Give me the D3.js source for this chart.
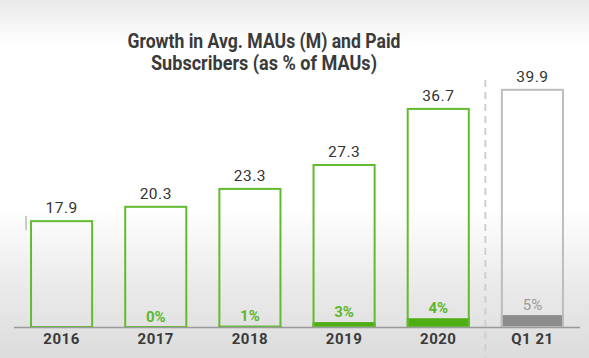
<!DOCTYPE html>
<html><head><meta charset="utf-8">
<script src="https://cdn.jsdelivr.net/npm/d3@7"></script>
<style>html,body{margin:0;padding:0;background:#fff;}svg{display:block;}</style>
</head><body>
<script>
const categories = ["2016","2017","2018","2019","2020","Q1 21"];
const maus = [17.9, 20.3, 23.3, 27.3, 36.7, 39.9];
const paidPct = [null, 0, 1, 3, 4, 5];
const titleLines = ["Growth in Avg. MAUs (M) and Paid", "Subscribers (as % of MAUs)"];
const data = categories.map((c,i)=>({cat:c, v:maus[i], p:paidPct[i], proj: c==="Q1 21"}));

const W=589,H=358;
const svg=d3.select("body").append("svg").attr("width",W).attr("height",H);
const defs=svg.append("defs");
const g=defs.append("linearGradient").attr("id","bg").attr("x1",0).attr("x2",0).attr("y1",0).attr("y2",1);
[[0,"#e9e9e9"],[0.1,"#fbfbfb"],[0.13,"#ffffff"],[0.58,"#ffffff"],[0.8,"#eaeaea"],[1,"#dcdcdc"]].forEach(s=>g.append("stop").attr("offset",s[0]).attr("stop-color",s[1]));
svg.append("rect").attr("width",W).attr("height",H).attr("fill","url(#bg)");

const base=327;
const y=d3.scaleLinear().domain([0,40]).range([base, base-40*5.97]);
const x=d3.scaleBand().domain(categories).range([14.5,579.5]).paddingInner(0.33).paddingOuter(0.165);

const green="#62bb2e", greenFill="#4fae12", greenText="#5cb82a";
const grayStroke="#bdbdbd", grayFill="#8c8c8c", grayText="#9a9a9a";

// title
const titleWidths=[273,226];
svg.append("g").selectAll("text").data(titleLines).join("text")
  .attr("x",264).attr("y",(d,i)=>48+i*22).attr("text-anchor","middle")
  .attr("font-family","Roboto, 'DejaVu Sans', sans-serif").attr("font-weight",700)
  .attr("font-size",19.5).attr("fill","#3a3a3a")
  .attr("textLength",(d,i)=>titleWidths[i]).attr("lengthAdjust","spacingAndGlyphs").text(d=>d);

// dashed separator
const sepX=(x("2020")+x.bandwidth()+x("Q1 21"))/2;
svg.append("line").attr("x1",sepX).attr("x2",sepX).attr("y1",80).attr("y2",H)
  .attr("stroke","#cfcfcf").attr("stroke-width",2).attr("stroke-dasharray","7,5");

// stray tick near first bar
svg.append("line").attr("x1",x("2016")-4).attr("x2",x("2016")-4).attr("y1",y(18.6)).attr("y2",y(16.2))
  .attr("stroke","#bbb").attr("stroke-width",1.5);

// paid fill
svg.append("g").selectAll("rect").data(data.filter(d=>d.p)).join("rect")
  .attr("x",d=>x(d.cat)).attr("width",x.bandwidth())
  .attr("y",d=>y(d.v*d.p/100)).attr("height",d=>base-y(d.v*d.p/100))
  .attr("fill",d=>d.proj?grayFill:greenFill);

// bars outline
svg.append("g").selectAll("rect").data(data).join("rect")
  .attr("x",d=>x(d.cat)+1).attr("width",x.bandwidth()-2)
  .attr("y",d=>y(d.v)+1).attr("height",d=>base-y(d.v)-1)
  .attr("fill","none").attr("stroke",d=>d.proj?grayStroke:green).attr("stroke-width",2);

// axis line
svg.append("line").attr("x1",14).attr("x2",580).attr("y1",base+0.5).attr("y2",base+0.5)
  .attr("stroke","#9a9a9a").attr("stroke-width",1.5);

// value labels
svg.append("g").selectAll("text").data(data).join("text")
  .attr("x",d=>x(d.cat)+x.bandwidth()/2).attr("y",d=>y(d.v)-7).attr("text-anchor","middle")
  .attr("font-family","Roboto, 'DejaVu Sans', sans-serif").attr("font-size",15.5)
  .attr("letter-spacing",0.5).attr("fill","#333").text(d=>d.v.toFixed(1));

// pct labels
svg.append("g").selectAll("text").data(data.filter(d=>d.p!==null)).join("text")
  .attr("x",d=>x(d.cat)+x.bandwidth()/2).attr("y",d=>y(d.v*d.p/100)-5).attr("text-anchor","middle")
  .attr("font-family","Roboto, 'DejaVu Sans', sans-serif").attr("font-size",15).attr("font-weight",d=>d.proj?400:700)
  .attr("fill",d=>d.proj?grayText:greenText).text(d=>d.p+"%");

// x axis labels
svg.append("g").selectAll("text").data(categories).join("text")
  .attr("x",d=>x(d)+x.bandwidth()/2).attr("y",344).attr("text-anchor","middle")
  .attr("font-family","Roboto, 'DejaVu Sans', sans-serif").attr("font-size",15).attr("font-weight",700)
  .attr("letter-spacing",0.5).attr("fill","#3a3a3a").text(d=>d);
</script>
</body></html>
